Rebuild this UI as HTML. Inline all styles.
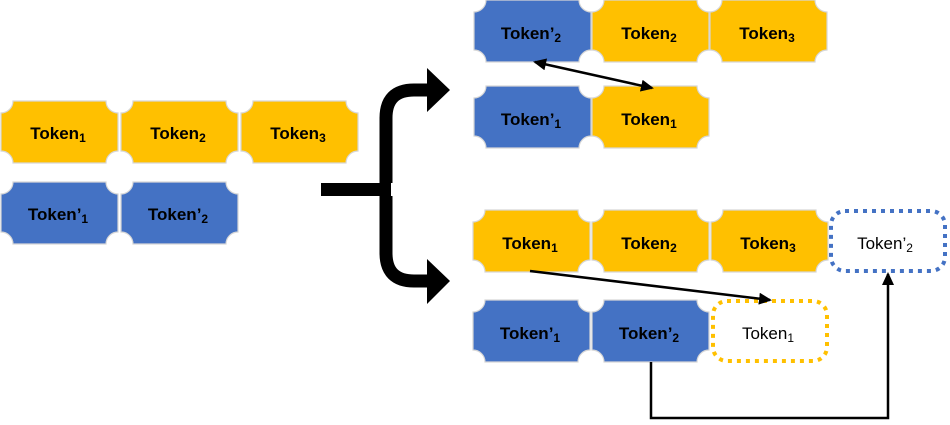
<!DOCTYPE html>
<html><head><meta charset="utf-8"><style>
html,body{margin:0;padding:0;background:#fff;}
svg text{font-family:"Liberation Sans",sans-serif;font-weight:600;font-size:17px;fill:#000;}
</style></head><body>
<svg width="950" height="420" viewBox="0 0 950 420" xmlns="http://www.w3.org/2000/svg">
<defs>
<path id="t" d="M12,0 H105 A12,12 0 0 0 117,12 V50 A12,12 0 0 0 105,62 H12 A12,12 0 0 0 0,50 V12 A12,12 0 0 0 12,0 Z" stroke="#d6d6d6" stroke-width="1.2"/>
<marker id="ah" markerWidth="14" markerHeight="12" refX="11" refY="6" orient="auto" markerUnits="userSpaceOnUse"><path d="M0,0 L13,6 L0,12 Z" fill="#000"/></marker>
<marker id="as" markerWidth="14" markerHeight="12" refX="2" refY="6" orient="auto" markerUnits="userSpaceOnUse"><path d="M13,0 L0,6 L13,12 Z" fill="#000"/></marker>
</defs>

<use href="#t" x="1" y="101" fill="#FFC000"/>
<use href="#t" x="121" y="101" fill="#FFC000"/>
<use href="#t" x="241" y="101" fill="#FFC000"/>
<use href="#t" x="1" y="182" fill="#4472C4"/>
<use href="#t" x="121" y="182" fill="#4472C4"/>
<text x="58" y="139" text-anchor="middle">Token<tspan font-size="12" dy="3">1</tspan></text>
<text x="178" y="139" text-anchor="middle">Token<tspan font-size="12" dy="3">2</tspan></text>
<text x="298" y="139" text-anchor="middle">Token<tspan font-size="12" dy="3">3</tspan></text>
<text x="58" y="220" text-anchor="middle">Token’<tspan font-size="12" dy="3">1</tspan></text>
<text x="178" y="220" text-anchor="middle">Token’<tspan font-size="12" dy="3">2</tspan></text>

<rect x="321" y="183" width="70" height="13" fill="#000"/>
<path d="M386,183 V118 Q386,90 414,90 H430" fill="none" stroke="#000" stroke-width="13"/>
<path d="M386,196 V253 Q386,281 414,281 H430" fill="none" stroke="#000" stroke-width="13"/>
<path d="M427,68 L450,90 L427,112 Z" fill="#000"/>
<path d="M427,259 L450,281 L427,304 Z" fill="#000"/>

<use href="#t" x="474" y="0" fill="#4472C4"/>
<use href="#t" x="592" y="0" fill="#FFC000"/>
<use href="#t" x="710" y="0" fill="#FFC000"/>
<use href="#t" x="474" y="86" fill="#4472C4"/>
<use href="#t" x="592" y="86" fill="#FFC000"/>
<text x="531" y="39" text-anchor="middle">Token’<tspan font-size="12" dy="3">2</tspan></text>
<text x="649" y="39" text-anchor="middle">Token<tspan font-size="12" dy="3">2</tspan></text>
<text x="767" y="39" text-anchor="middle">Token<tspan font-size="12" dy="3">3</tspan></text>
<text x="531" y="125" text-anchor="middle">Token’<tspan font-size="12" dy="3">1</tspan></text>
<text x="649" y="125" text-anchor="middle">Token<tspan font-size="12" dy="3">1</tspan></text>
<line x1="535" y1="62" x2="652" y2="88" stroke="#000" stroke-width="2.5" marker-start="url(#as)" marker-end="url(#ah)"/>

<use href="#t" x="473" y="210" fill="#FFC000"/>
<use href="#t" x="592" y="210" fill="#FFC000"/>
<use href="#t" x="711" y="210" fill="#FFC000"/>
<rect x="831" y="211" width="114" height="60" rx="14" fill="none" stroke="#4472C4" stroke-width="4" stroke-dasharray="4,5"/>
<use href="#t" x="473" y="300" fill="#4472C4"/>
<use href="#t" x="592" y="300" fill="#4472C4"/>
<rect x="713" y="301" width="114" height="60" rx="14" fill="none" stroke="#FFC000" stroke-width="4" stroke-dasharray="4,5"/>
<text x="530" y="249" text-anchor="middle">Token<tspan font-size="12" dy="3">1</tspan></text>
<text x="649" y="249" text-anchor="middle">Token<tspan font-size="12" dy="3">2</tspan></text>
<text x="768" y="249" text-anchor="middle">Token<tspan font-size="12" dy="3">3</tspan></text>
<text x="885" y="249" text-anchor="middle" style="font-weight:normal">Token’<tspan font-size="12" dy="3">2</tspan></text>
<text x="530" y="339" text-anchor="middle">Token’<tspan font-size="12" dy="3">1</tspan></text>
<text x="649" y="339" text-anchor="middle">Token’<tspan font-size="12" dy="3">2</tspan></text>
<text x="768" y="339" text-anchor="middle" style="font-weight:normal">Token<tspan font-size="12" dy="3">1</tspan></text>
<line x1="530" y1="271" x2="770" y2="300" stroke="#000" stroke-width="2.5" marker-end="url(#ah)"/>
<polyline points="651,362 651,418 888,418 888,274" fill="none" stroke="#000" stroke-width="2.5" marker-end="url(#ah)"/>
</svg>
</body></html>
